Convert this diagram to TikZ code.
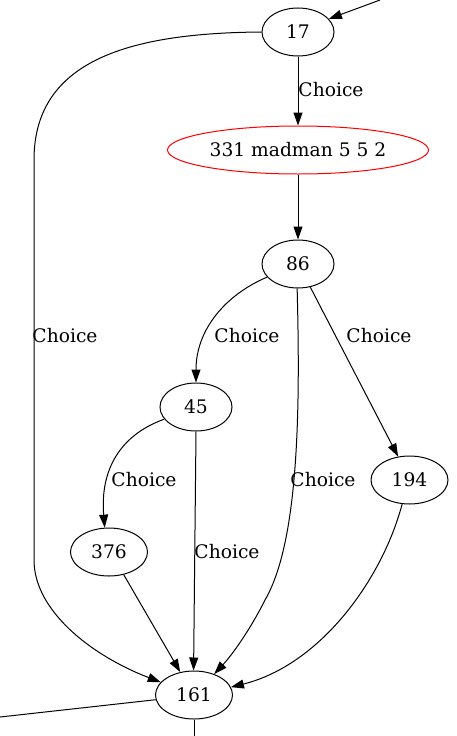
\documentclass[tikz,border=0pt]{standalone}
\usepackage{fontspec}
\setmainfont{DejaVu Serif}
\usetikzlibrary{shapes.geometric,arrows.meta}
\begin{document}
\begin{tikzpicture}[x=1pt,y=-1pt,
  every node/.style={font=\fontsize{18.67}{22}\selectfont},
  gnode/.style={draw,ellipse,line width=1pt,minimum height=48pt,minimum width=72pt,inner sep=0pt},
  wide/.style={minimum width=77pt},
  edge/.style={draw,line width=1pt,-{Triangle[length=13pt,width=9pt]}},
  plain/.style={draw,line width=1pt},
  lbl/.style={inner sep=0pt}]
\useasboundingbox (0,0) rectangle (456,736);
\node[gnode] (n17) at (298,32) {17};
\node[gnode,draw=red,minimum width=261pt] (n331) at (298,150) {331 madman 5 5 2};
\node[gnode] (n86) at (298,264) {86};
\node[gnode] (n45) at (196,407) {45};
\node[gnode,wide] (n194) at (409.5,480) {194};
\node[gnode,wide] (n376) at (109,552) {376};
\node[gnode,wide] (n161) at (194,695) {161};
\coordinate (in17) at (380,0);
\coordinate (outL) at (0,717);
\coordinate (outD) at (194,736);
% incoming
\draw[edge] (in17) -- (n17.23);
% 17 -> 161
\draw[edge] (n17.west) .. controls (130,33) and (34,60) .. (34,160) -- (34,560)
  .. controls (34,610) and (90,655) .. (n161.159);
\node[lbl] at (65,336) {Choice};
% 17 -> 331
\draw[edge] (n17.south) -- (n331.north);
\node[lbl] at (331,90) {Choice};
% 331 -> 86
\draw[edge] (n331.south) -- (n86.north);
% 86 -> 45
\draw[edge] (n86.203) .. controls (225,295) and (196,330) .. (n45.north);
\node[lbl] at (247,336) {Choice};
% 86 -> 161
\draw[edge] (n86.268) .. controls (300,400) and (300,540) .. (265,600)
  .. controls (250,630) and (232,655) .. (n161.46);
\node[lbl] at (323,480) {Choice};
% 86 -> 194
\draw[edge] (n86.298.5) -- (n194.116.6);
\node[lbl] at (379,336) {Choice};
% 45 -> 376
\draw[edge] (n45.201) .. controls (120,435) and (100,470) .. (n376.100);
\node[lbl] at (144,480) {Choice};
% 45 -> 161
\draw[edge] (n45.south) -- (n161.91);
\node[lbl] at (227,552) {Choice};
% 376 -> 161
\draw[edge] (n376.303) -- (n161.121);
% 194 -> 161
\draw[edge] (n194.253) .. controls (382,580) and (320,665) .. (n161.12);
% 161 out
\draw[plain] (n161.187) -- (outL);
\draw[plain] (n161.south) -- (outD);
\end{tikzpicture}
\end{document}
